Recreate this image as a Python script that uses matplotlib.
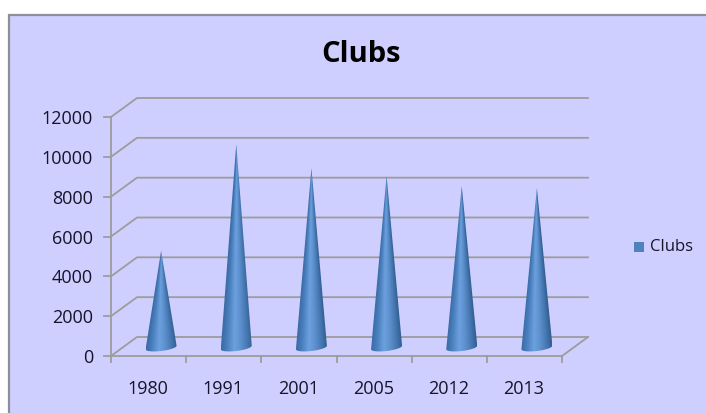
import numpy as np
import matplotlib
matplotlib.use('Agg')
import matplotlib.pyplot as plt
from matplotlib.colors import LinearSegmentedColormap
from matplotlib.patches import PathPatch, Rectangle
from matplotlib.path import Path

# Clubs per year
years = ['1980', '1991', '2001', '2005', '2012', '2013']
clubs = [4800, 10150, 8950, 8550, 8050, 7950]
y_ticks = [0, 2000, 4000, 6000, 8000, 10000, 12000]

bg_color = '#CFCFFF'
grid_color = '#9C9C9C'
text_color = '#14142A'

W, H = 706, 413
fig = plt.figure(figsize=(W / 100, H / 100), dpi=100, facecolor='white')

# background panel with grey border, runs off the right and bottom edges
panel = Rectangle((9 / W, -10 / H), 710 / W, (H + 10 - 15) / H, transform=fig.transFigure,
                  facecolor=bg_color, edgecolor='#8E8E96', linewidth=1.6, zorder=-1)
fig.add_artist(panel)

# plot box is the front face of the 3D frame
ax = fig.add_axes([111 / W, 1 - 356 / H, 451 / W, 239 / H])
ax.patch.set_alpha(0)
ax.set_xlim(0, 6)
ax.set_ylim(0, 12000)
for s in ax.spines.values():
    s.set_visible(False)

px_x = 6 / 451
px_y = 12000 / 239
depth_x = 26 * px_x
depth_y = 19 * px_y

# walls and floor
for v in y_ticks:
    ax.plot([0, depth_x, 6 + depth_x], [v, v + depth_y, v + depth_y], color=grid_color,
            lw=1.3, clip_on=False, zorder=1)
    ax.plot([-7 * px_x, 0], [v, v], color=grid_color, lw=1.3, clip_on=False, zorder=1)
ax.plot([0, 0], [0, 12000], color=grid_color, lw=1.3, clip_on=False, zorder=1)
ax.plot([0, 6, 6 + depth_x], [0, 0, depth_y], color=grid_color, lw=1.3, clip_on=False, zorder=1)
for i in range(7):
    ax.plot([i, i], [0, -6 * px_y], color=grid_color, lw=1.3, clip_on=False, zorder=1)

# cone shading, dark at the rim and light just left of the middle
cone_cmap = LinearSegmentedColormap.from_list('cone', [
    (0.0, '#3A6BA5'), (0.18, '#4A7FBD'), (0.42, '#6CA0DE'), (0.6, '#5F93D0'),
    (0.85, '#4576B0'), (1.0, '#336194')])

half_w = 15.5 * px_x
half_h = 3.5 * px_y
tilt = 1.8 * px_y

for i, val in enumerate(clubs):
    xc = i + 0.5 + depth_x / 2 - 0.5 * px_x
    yc = depth_y / 2 - 1.0 * px_y
    top = val + depth_y / 2

    # outline: tip, down to the base, round the tilted ellipse
    t = np.linspace(0, np.pi, 40)
    ex = xc + half_w * np.cos(t)
    ey = yc - half_h * np.sin(t) + tilt * np.cos(t)
    verts = np.column_stack([np.r_[xc, ex, xc], np.r_[top, ey, top]])
    clip = PathPatch(Path(verts), transform=ax.transData, facecolor='none', edgecolor='none')
    ax.add_patch(clip)

    # horizontal position relative to the cone's width at each height
    xs = np.linspace(xc - half_w, xc + half_w, 80)
    ys = np.linspace(yc - half_h - tilt, top, 300)
    X, Y = np.meshgrid(xs, ys)
    width = half_w * np.clip((top - Y) / (top - yc), 0.001, 1)
    u = np.clip((X - xc) / width * 0.5 + 0.5, 0, 1)
    im = ax.imshow(u, origin='lower', aspect='auto', cmap=cone_cmap, vmin=0, vmax=1,
                   extent=[xs[0], xs[-1], ys[0], ys[-1]], zorder=3, interpolation='bilinear')
    im.set_clip_path(clip)

ax.set_xlim(0, 6)
ax.set_ylim(0, 12000)

ax.set_xticks(np.arange(6) + 0.5 + depth_x / 2 - 0.18)
ax.set_xticklabels(years)
ax.set_yticks(y_ticks)
ax.tick_params(length=0, labelsize=13, labelcolor=text_color)
ax.tick_params(axis='x', pad=17)
ax.tick_params(axis='y', pad=13)
for lab in ax.get_xticklabels() + ax.get_yticklabels():
    lab.set_fontfamily(['Open Sans', 'DejaVu Sans'])

fig.text(360.5 / W, 1 - 55 / H, 'Clubs', ha='center', va='center', fontsize=21, fontweight='bold',
         color='black', family=['Open Sans', 'DejaVu Sans'])

# legend
fig.add_artist(Rectangle((634 / W, 1 - 252 / H), 10 / W, 10 / H, transform=fig.transFigure,
                         facecolor='#4F81BD', edgecolor='none'))
fig.text(650 / W, 1 - 247 / H, 'Clubs', ha='left', va='center', fontsize=12,
         color=text_color, family=['Open Sans', 'DejaVu Sans'])

fig.savefig('out.png', dpi=100)
